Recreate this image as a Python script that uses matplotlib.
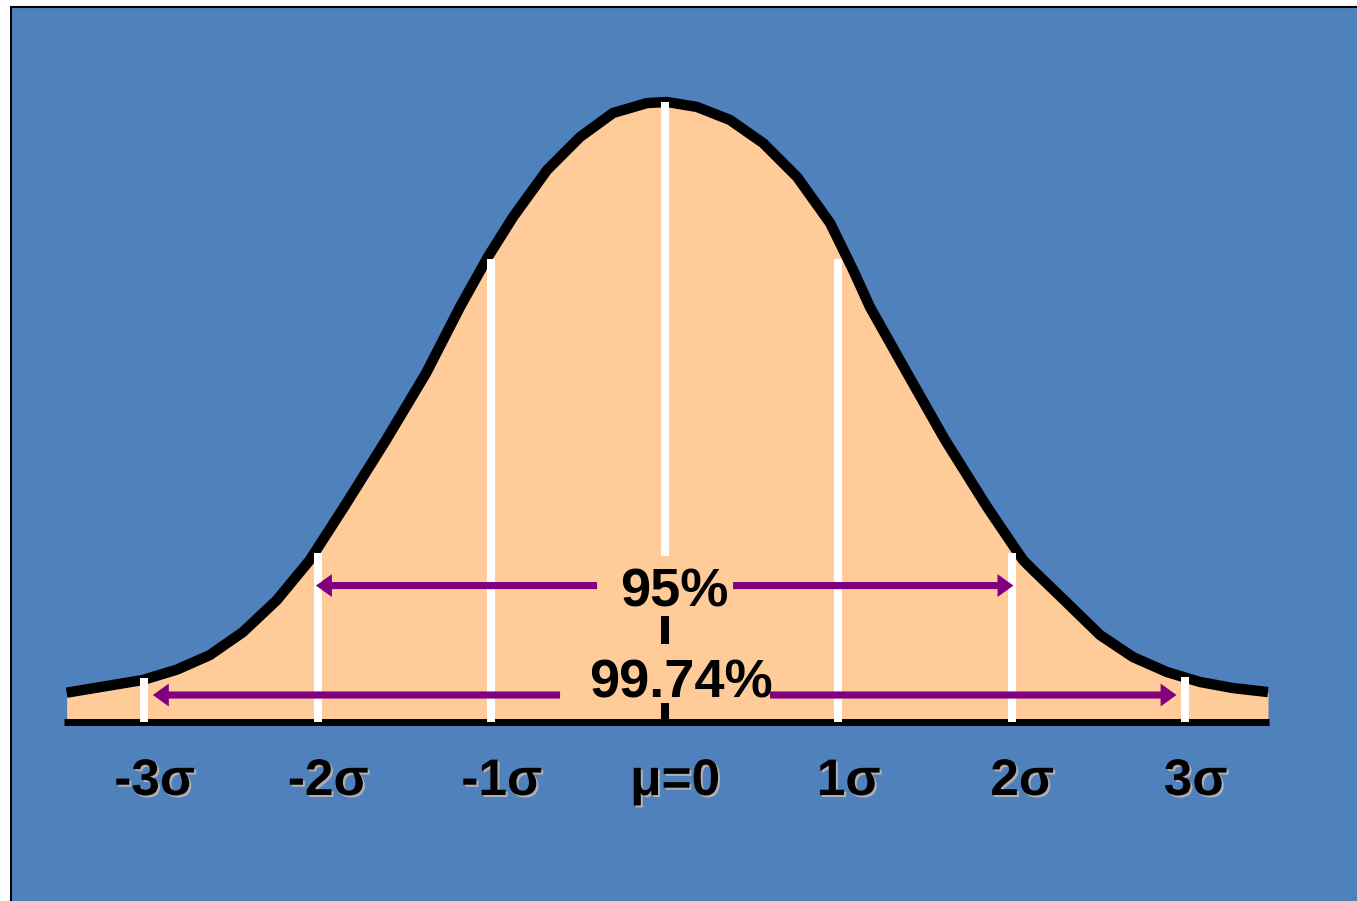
import matplotlib
matplotlib.use("Agg")
import matplotlib.pyplot as plt
from matplotlib.patches import Rectangle
import matplotlib.patheffects as pe

# bell curve (x in sigma, y in density units)
curve_x = [-3.447, -3.007, -2.811, -2.621, -2.431, -2.235, -2.045, -1.848, -1.606,
           -1.375, -1.180, -1.019, -0.874, -0.678, -0.488, -0.298, -0.102, 0.013,
           0.186, 0.376, 0.567, 0.763, 0.953, 1.085, 1.183, 1.397, 1.616, 1.858,
           2.065, 2.123, 2.319, 2.509, 2.699, 2.895, 3.085, 3.275, 3.477]
curve_y = [0.0186, 0.0268, 0.0335, 0.0429, 0.0577, 0.0784, 0.1042, 0.1384, 0.1816,
           0.2248, 0.2674, 0.2997, 0.3255, 0.3558, 0.3771, 0.3926, 0.3990, 0.3997,
           0.3965, 0.3881, 0.3732, 0.3513, 0.3216, 0.2915, 0.2674, 0.2248, 0.1816, 0.1384,
           0.1042, 0.0977, 0.0765, 0.0558, 0.0416, 0.0319, 0.0255, 0.0216, 0.0190]

sigma_ticks = [-3, -2, -1, 0, 1, 2, 3]
tick_labels = ["-3\u03c3", "-2\u03c3", "-1\u03c3", "\u03bc=0", "1\u03c3", "2\u03c3", "3\u03c3"]
line_tops = [0.0282, 0.1087, 0.2981, 0.3999, 0.2987, 0.1089, 0.0287]

range_labels = ["95%", "99.74%"]
range_tips = [2.01, 2.95]

blue = "#4F81BD"
peach = "#FFCC99"
purple = "#800080"
font = ["Liberation Sans", "DejaVu Sans"]

fig = plt.figure(figsize=(13.57, 9.01), dpi=100)
fig.patch.set_facecolor("white")
fig.add_artist(Rectangle((11 / 1357, -0.2), 1.5, 1.2 - 7 / 901,
                         transform=fig.transFigure, facecolor=blue,
                         edgecolor="black", lw=1.5, zorder=0))

ax = fig.add_axes([0, 0, 1, 1])
ax.set_axis_off()
ax.set_xlim(-3.831, 3.990)
ax.set_ylim(-0.1158, 0.4655)

ax.fill_between(curve_x, curve_y, 0, color=peach, lw=0, zorder=1)
ax.plot(curve_x, curve_y, color="black", lw=7.5, solid_capstyle="butt",
        solid_joinstyle="round", zorder=2)
ax.plot([-3.463, 3.482], [0, 0], color="black", lw=5, solid_capstyle="butt", zorder=2)

# white sigma lines
for x, top in zip(sigma_ticks, line_tops):
    if x == 0:
        ax.plot([x, x], [0.1068, top], color="white", lw=5.8, solid_capstyle="butt", zorder=3)
        ax.plot([x, x], [0.0500, 0.0681], color="black", lw=5.8, solid_capstyle="butt", zorder=3)
        ax.plot([x, x], [0.0, 0.0119], color="black", lw=5.8, solid_capstyle="butt", zorder=3)
    else:
        ax.plot([x, x], [0.0, top], color="white", lw=5.8, solid_capstyle="butt", zorder=3)

# range arrows
arrow_y = [0.0877, 0.0171]
gap_ends = [(-0.390, 0.394), (-0.603, 0.607)]
text_pos = [(0.0565, 0.0739), (0.094, 0.0152)]
for lab, tip, y, (g0, g1), (tx, ty) in zip(range_labels, range_tips, arrow_y, gap_ends, text_pos):
    for start, end in [(g0, -tip), (g1, tip)]:
        ax.arrow(start, y, end - start, 0, width=0.0046, head_width=0.0148,
                 head_length=0.092, length_includes_head=True, color=purple,
                 lw=0, zorder=4)
    ax.text(tx, ty, lab, ha="center", va="baseline", fontsize=39,
            fontweight="bold", family=font, color="black", zorder=5)

shadow = [pe.withSimplePatchShadow(offset=(1.5, -1.5), shadow_rgbFace="#b0b0b0", alpha=1)]
for x, lab in zip(sigma_ticks, tick_labels):
    ax.text(x + 0.06, -0.0474, lab, ha="center", va="baseline", fontsize=37,
            fontweight="bold", family=font, color="black", path_effects=shadow, zorder=5)

fig.savefig("out.png", dpi=100)
